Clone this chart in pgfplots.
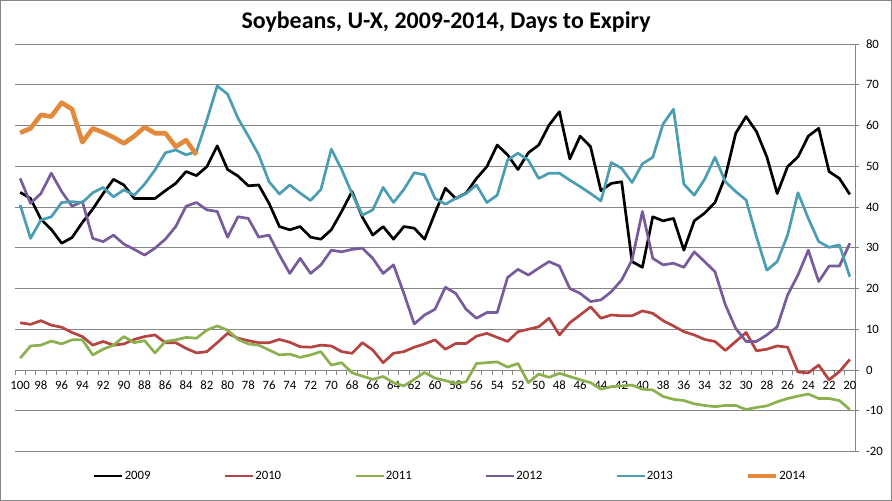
\documentclass[border=0pt]{standalone}
\usepackage{pgfplots}
\pgfplotsset{compat=1.18}
\usepackage{pgfplotstable}
\usepackage{fontspec}
\setmainfont{Carlito}
\definecolor{c09}{HTML}{000000}
\definecolor{c10}{HTML}{B5433F}
\definecolor{c11}{HTML}{8CB04E}
\definecolor{c12}{HTML}{775B9C}
\definecolor{c13}{HTML}{4A9DB3}
\definecolor{c14}{HTML}{E3893C}
\definecolor{gridc}{HTML}{868686}

\pgfplotstableread{
day y09 y10 y11 y12 y13
100 43.6 11.6 2.9 47.0 40.5
99 42.1 11.2 5.9 40.9 32.3
98 37.0 12.1 6.1 43.3 36.8
97 34.5 11.0 7.1 48.3 37.6
96 31.1 10.5 6.4 43.8 41.1
95 32.5 9.2 7.4 40.2 41.3
94 36.2 8.2 7.4 41.3 41.1
93 39.5 6.1 3.7 32.3 43.5
92 43.3 7.0 5.1 31.5 44.8
91 46.8 6.1 6.1 33.1 42.5
90 45.4 6.4 8.2 30.9 44.2
89 42.1 7.5 6.7 29.6 42.9
88 42.1 8.2 7.2 28.2 45.6
87 42.1 8.6 4.2 29.9 49.1
86 44.0 6.7 7.0 32.1 53.3
85 45.8 6.7 7.4 35.2 54.0
84 48.7 5.3 8.0 40.2 52.8
83 47.7 4.2 7.8 41.1 53.6
82 49.9 4.5 9.8 39.3 61.3
81 55.0 6.7 10.8 38.9 69.7
80 49.2 9.0 9.8 32.6 67.7
79 47.6 7.8 7.5 37.6 61.8
78 45.2 7.2 6.4 37.2 57.4
77 45.4 6.7 6.1 32.6 52.8
76 40.9 6.7 4.9 33.1 46.2
75 35.2 7.5 3.7 28.2 43.2
74 34.4 6.8 3.9 23.7 45.4
73 35.2 5.7 3.1 27.4 43.4
72 32.6 5.6 3.7 23.7 41.6
71 32.1 6.1 4.5 25.8 44.3
70 34.4 5.9 1.2 29.4 54.2
69 38.9 4.5 1.8 29.0 49.2
68 43.8 4.1 -0.7 29.6 43.3
67 37.5 6.7 -1.5 29.9 38.0
66 33.1 4.9 -2.3 27.4 39.3
65 35.2 1.8 -1.6 23.7 44.8
64 32.1 4.1 -3.1 25.8 41.1
63 35.2 4.5 -3.9 18.8 44.3
62 34.8 5.6 -2.3 11.3 48.4
61 32.1 6.4 -0.6 13.5 47.9
60 38.5 7.4 -2.0 14.9 42.1
59 44.6 5.1 -2.6 20.3 40.7
58 42.1 6.5 -3.3 18.8 42.1
57 43.4 6.5 -2.9 14.9 43.3
56 47.0 8.3 1.6 12.7 45.4
55 49.9 9.0 1.8 14.1 41.1
54 55.2 8.0 2.0 14.1 42.9
53 52.8 7.0 0.7 22.7 51.5
52 49.2 9.4 1.6 24.7 53.2
51 53.3 10.0 -3.1 23.3 51.5
50 55.2 10.6 -1.0 25.0 47.0
49 60.1 12.7 -1.8 26.6 48.3
48 63.4 8.6 -0.8 25.5 48.3
47 51.8 11.6 -1.6 20.0 46.6
46 57.4 13.5 -2.4 18.8 45.0
45 54.8 15.5 -3.1 16.8 43.3
44 44.0 12.7 -4.7 17.2 41.5
43 45.8 13.5 -4.1 19.2 50.9
42 46.2 13.3 -3.9 22.1 49.5
41 26.6 13.3 -3.7 27.0 46.0
40 25.2 14.5 -4.7 38.9 50.6
39 37.6 13.9 -4.9 27.4 52.2
38 36.6 12.1 -6.5 25.8 60.4
37 37.2 10.8 -7.2 26.2 64.0
36 29.4 9.4 -7.5 25.2 45.6
35 36.6 8.6 -8.3 29.0 42.9
34 38.5 7.5 -8.7 26.6 46.8
33 41.1 7.0 -9.0 24.1 52.2
32 47.5 4.8 -8.7 16.0 46.2
31 58.1 7.0 -8.7 10.2 43.8
30 62.2 9.2 -9.7 7.0 41.7
29 58.5 4.7 -9.2 7.0 32.7
28 52.3 5.1 -8.8 8.6 24.5
27 43.3 5.9 -7.8 10.6 26.6
26 49.9 5.6 -7.0 18.4 33.1
25 52.3 -0.5 -6.4 23.3 43.5
24 57.4 -0.7 -5.9 29.4 37.2
23 59.3 1.2 -7.0 21.7 31.5
22 48.7 -2.4 -7.0 25.5 30.1
21 47.0 -0.4 -7.5 25.5 30.7
20 43.1 2.6 -9.7 31.1 22.9
}\dataA

\pgfplotstableread{
day y14
100 58.2
99 59.3
98 62.6
97 62.2
96 65.6
95 64.0
94 55.9
93 59.3
92 58.3
91 57.1
90 55.6
89 57.4
88 59.6
87 58.1
86 58.1
85 54.8
84 56.4
83 52.8
}\dataB

\begin{document}
\begin{tikzpicture}
\path[use as bounding box] (-15bp,-49.5bp) rectangle (877bp,451.5bp);
\begin{axis}[
  at={(0,0)}, anchor=south west,
  scale only axis, width=840bp, height=407.5bp,
  x dir=reverse,
  xmin=19.5, xmax=100.5, ymin=-20, ymax=80,
  axis x line*=middle, axis y line*=right,
  axis line style={gridc, line width=0.8bp},
  xtick={20,22,...,100},
  minor xtick={19.5,20.5,...,100.5},
  ytick={-20,-10,...,80},
  ymajorgrids, grid style={gridc, line width=0.8bp},
  tick align=outside,
  major x tick style={draw=none},
  minor x tick style={gridc, line width=0.8bp},
  y tick style={gridc, line width=0.8bp},
  major tick length=4.5bp, minor tick length=4.5bp,
  /pgf/number format/assume math mode=true,
  tick label style={font=\fontsize{12.8}{15}\selectfont, text=black},
  x tick label style={yshift=-3bp},
  y tick label style={anchor=west, xshift=3bp},
  legend style={at={(0.5175,-0.0601)}, anchor=center, draw=none, fill=none,
    legend columns=6, font=\fontsize{12.8}{15}\selectfont,
    nodes={inner xsep=1bp},
    /tikz/every even column/.append style={column sep=72bp}},
  legend image code/.code={\draw[#1] (0bp,0bp) -- (28bp,0bp);},
  every axis plot/.append style={line width=2.7bp, line join=round},
  clip=false,
]
\addplot[c09] table[x=day,y=y09] {\dataA};
\addlegendentry{2009}
\addplot[c10] table[x=day,y=y10] {\dataA};
\addlegendentry{2010}
\addplot[c11] table[x=day,y=y11] {\dataA};
\addlegendentry{2011}
\addplot[c12] table[x=day,y=y12] {\dataA};
\addlegendentry{2012}
\addplot[c13] table[x=day,y=y13] {\dataA};
\addlegendentry{2013}
\addplot[c14, line width=4.6bp] table[x=day,y=y14] {\dataB};
\addlegendentry{2014}
\end{axis}
\node[font=\fontsize{24}{28}\bfseries\selectfont] at (431bp,429.5bp) {Soybeans, U-X, 2009-2014, Days to Expiry};
\draw[gridc, line width=1bp] (-14bp,-48.5bp) rectangle (876bp,450.5bp);
\end{tikzpicture}
\end{document}
